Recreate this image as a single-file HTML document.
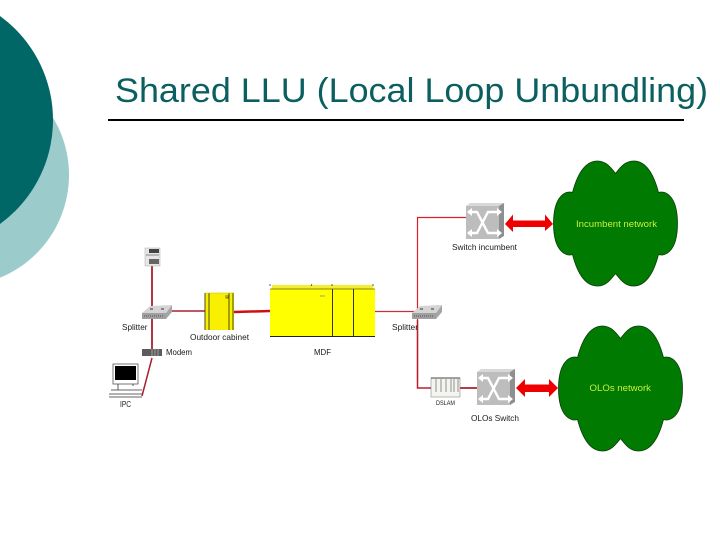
<!DOCTYPE html>
<html>
<head>
<meta charset="utf-8">
<style>
html,body{margin:0;padding:0;background:#fff;}
svg{display:block;font-family:"Liberation Sans",sans-serif;}
</style>
</head>
<body>
<svg width="720" height="540" viewBox="0 0 720 540" xmlns="http://www.w3.org/2000/svg">
<defs>
  <path id="cloud" d="M0 -50 C-4 -55 -9 -62.5 -18 -62.5 C-28 -62.5 -37 -54 -43 -31 C-48 -33 -62 -30 -62 0 C-62 30 -48 33 -43 31 C-37 54 -28 62.500 -18 62.500 C-9 62.500 -4 55 0 50 C4 55 9 62.500 18 62.500 C28 62.500 37 54 43 31 C48 33 62 30 62 0 C62 -30 48 -33 43 -31 C37 -54 28 -62.5 18 -62.5 C9 -62.5 4 -55 0 -50Z"/>
  <g id="switch">
    <polygon points="0,3 4,0 39,0 35,3" fill="#d8d8d8"/>
    <polygon points="33,3 38,0 38,33 33,36" fill="#8f8f8f"/>
    <rect x="0" y="3" width="33" height="33" fill="#bdbdbd"/>
    <path d="M2 9H11L22 30H31M2 30H11L22 9H31" fill="none" stroke="#fff" stroke-width="2.4"/>
    <path d="M31 5L36 9L31 13ZM31 26L36 30L31 34Z" fill="#fff"/>
    <path d="M6 5L1 9L6 13ZM6 26L1 30L6 34Z" fill="#fff"/>
  </g>
  <g id="splitter">
    <polygon points="0,8 8,1 30,0 24,8" fill="#d4d4d4"/>
    <polygon points="24,8 30,0 30,7 24,14" fill="#a5a5a5"/>
    <rect x="0" y="8" width="24" height="6" fill="#a0a0a0"/>
    <path d="M2 11H22" stroke="#555" stroke-width="1" stroke-dasharray="1 1"/>
    <path d="M8 4H11M19 4H22" stroke="#333" stroke-width="1"/>
  </g>
</defs>

<rect width="720" height="540" fill="#fff"/>
<circle cx="-42" cy="175" r="111" fill="#9ccbcc"/>
<circle cx="-75.5" cy="120" r="128.5" fill="#006766"/>

<text x="115" y="102" font-size="34.5" fill="#0b5f60" textLength="593" lengthAdjust="spacingAndGlyphs">Shared LLU (Local Loop Unbundling)</text>
<rect x="108" y="119" width="576" height="2" fill="#000"/>

<!-- clouds -->
<use href="#cloud" x="615.5" y="223.5" fill="#007a00" stroke="#0a3d0a" stroke-width="0.8"/>
<use href="#cloud" x="620.5" y="388.5" fill="#007a00" stroke="#0a3d0a" stroke-width="0.8"/>
<text x="576" y="227" font-size="9.5" fill="#c8f03c" textLength="81" lengthAdjust="spacingAndGlyphs">Incumbent network</text>
<text x="589.5" y="391" font-size="9.5" fill="#c8f03c" textLength="61.5" lengthAdjust="spacingAndGlyphs">OLOs network</text>

<!-- connectors -->
<g fill="none" stroke="#a8202e">
  <path d="M152 265V350" stroke-width="1.8"/>
  <path d="M172 311H205" stroke-width="1.5"/>
  <path d="M152 358L142 396" stroke-width="1.5"/>
  <path d="M375 311.500H415" stroke-width="1.2" stroke="#c8303c"/>
  <path d="M466 217.500H417.500V380" stroke-width="1.2" stroke="#d8202c"/>
  <path d="M417.500 320V388H431" stroke-width="1.500" stroke="#b8202e"/>
  <path d="M460 388H477" stroke-width="1.800"/>
</g>
<path d="M234 312L270 311" stroke="#d01010" stroke-width="2.500"/>

<!-- double arrows -->
<polygon points="505,224 513,214.500 513,220.500 545,220.500 545,214.500 553,224 545,231 545,227 513,227 513,232" fill="#ee0000"/>
<polygon points="516,388 525,379 525,384.500 549,384.500 549,379 558,388 549,397 549,392 525,392 525,397" fill="#ee0000"/>

<!-- top device -->
<rect x="145" y="248" width="15" height="18" fill="#e6e6e6" stroke="#aaa" stroke-width="0.5"/>
<rect x="149" y="249" width="10" height="4" fill="#444"/>
<rect x="149" y="259" width="10" height="5" fill="#666"/>
<path d="M146 255H159" stroke="#888"/>

<use href="#splitter" x="142" y="305"/>
<use href="#splitter" x="412" y="305"/>

<!-- cabinet -->
<rect x="205" y="293" width="29" height="37" fill="#f8f000"/>
<path d="M205 293V330M209 293V330M229 293V330M233 293V330" stroke="#3a3a10" stroke-width="0.9"/>
<path d="M205 293H234" stroke="#c8c000" stroke-width="0.6"/>
<path d="M226 295V298H228V295" stroke="#444" fill="none" stroke-width="0.7"/>

<!-- MDF -->
<rect x="272" y="285" width="101" height="5" fill="#f2ee30"/>
<rect x="270" y="289" width="105" height="47" fill="#ffff00"/>
<path d="M270 289H375" stroke="#66660a" stroke-width="0.8"/>
<path d="M270 336.500H375" stroke="#222" stroke-width="1"/>
<path d="M332.500 289V336M353.500 289V336" stroke="#333" stroke-width="1"/>
<path d="M320 296H325" stroke="#888" stroke-width="0.8"/>
<path d="M270 286V284M311 286L312 284M332 286V284M373 286V284" stroke="#333" stroke-width="0.8"/>

<!-- modem -->
<rect x="142" y="349" width="20" height="7" fill="#5c5c5c"/>
<path d="M152 349V356M155 349V356M158 349V356" stroke="#ccc" stroke-width="0.6"/>

<!-- PC -->
<rect x="113" y="364" width="25" height="20" fill="#fff" stroke="#555" stroke-width="0.8"/>
<rect x="115" y="366" width="21" height="14" fill="#000"/>
<path d="M118 384V390M133 384V386M111 390H142M109 394H142M109 397H142" stroke="#333" stroke-width="0.8" fill="none"/>

<!-- switches -->
<use href="#switch" x="466" y="203"/>
<use href="#switch" x="477" y="369"/>

<!-- DSLAM -->
<rect x="431" y="378" width="29" height="19" fill="#f4f4f0" stroke="#777" stroke-width="0.5"/>
<path d="M431 378H460" stroke="#222" stroke-width="0.8"/>
<path d="M436 379V392M441 379V392M446 379V392M451 379V392M454 379V392M458 379V392" stroke="#666" stroke-width="0.7"/>

<!-- labels -->
<g font-size="8.5" fill="#1a1a1a">
  <text x="122" y="330" textLength="25.500" lengthAdjust="spacingAndGlyphs">Splitter</text>
  <text x="190" y="340" textLength="59" lengthAdjust="spacingAndGlyphs">Outdoor cabinet</text>
  <text x="166" y="355" textLength="26" lengthAdjust="spacingAndGlyphs">Modem</text>
  <text x="120" y="407" textLength="11" lengthAdjust="spacingAndGlyphs">IPC</text>
  <text x="314" y="355" textLength="17" lengthAdjust="spacingAndGlyphs">MDF</text>
  <text x="392" y="330" textLength="26" lengthAdjust="spacingAndGlyphs">Splitter</text>
  <text x="452" y="250" textLength="65" lengthAdjust="spacingAndGlyphs">Switch incumbent</text>
  <text x="471" y="421" textLength="48" lengthAdjust="spacingAndGlyphs">OLOs Switch</text>
  <text x="436" y="405" font-size="6" textLength="19" lengthAdjust="spacingAndGlyphs">DSLAM</text>
</g>
</svg>
</body>
</html>
